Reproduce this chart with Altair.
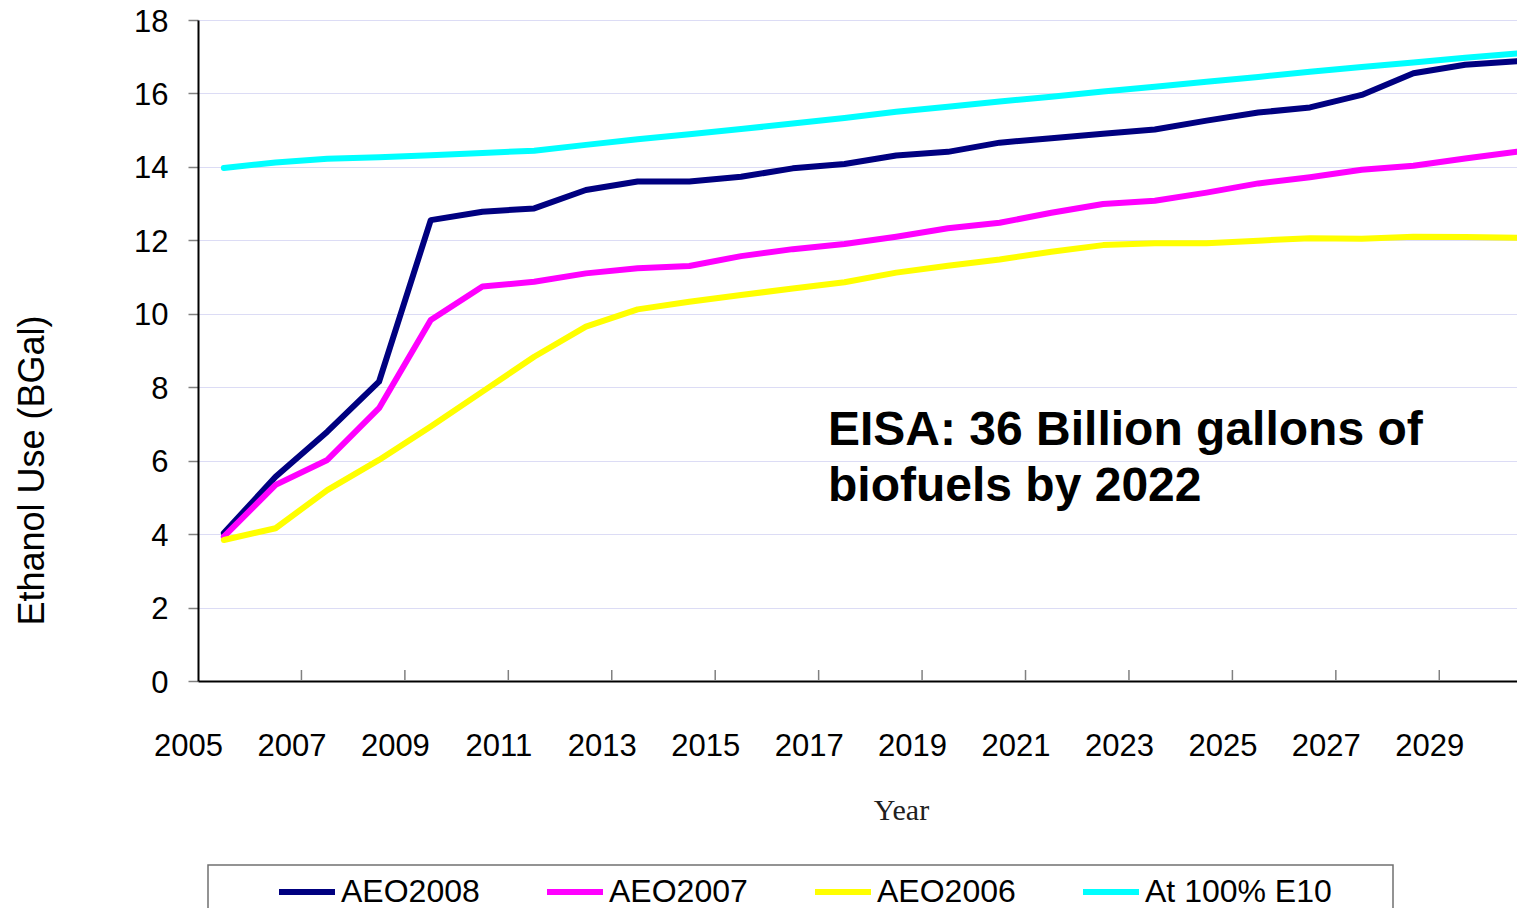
import altair as alt
import pandas as pd

# ---- data ----
years = list(range(2005, 2031))
aeo2008 = [4.03, 5.56, 6.79, 8.15, 12.55, 12.78, 12.87, 13.37, 13.60, 13.60, 13.73, 13.96, 14.08,
           14.31, 14.41, 14.66, 14.78, 14.90, 15.02, 15.26, 15.48, 15.62, 15.96, 16.55, 16.78, 16.88]
aeo2007 = [3.93, 5.34, 6.02, 7.43, 9.83, 10.74, 10.87, 11.10, 11.24, 11.30, 11.57, 11.76, 11.90,
           12.10, 12.33, 12.48, 12.75, 12.99, 13.08, 13.30, 13.55, 13.72, 13.92, 14.03, 14.23, 14.41]
aeo2006 = [3.84, 4.16, 5.20, 6.02, 6.93, 7.88, 8.83, 9.65, 10.12, 10.33, 10.51, 10.69, 10.86,
           11.12, 11.31, 11.48, 11.69, 11.87, 11.92, 11.92, 11.99, 12.06, 12.04, 12.10, 12.09, 12.07]
e10 = [13.97, 14.12, 14.22, 14.26, 14.32, 14.38, 14.44, 14.60, 14.75, 14.89, 15.03, 15.18, 15.33,
       15.50, 15.64, 15.78, 15.91, 16.05, 16.18, 16.32, 16.45, 16.59, 16.72, 16.84, 16.97, 17.09]

series_names = ["AEO2008", "AEO2007", "AEO2006", "At 100% E10"]
series_colors = ["#000080", "#FF00FF", "#FFFF00", "#00FFFF"]
y_ticks = [0, 2, 4, 6, 8, 10, 12, 14, 16, 18]
x_tick_positions = [2004.5 + 2 * i for i in range(13)]
annotation = "EISA: 36 Billion gallons of\nbiofuels by 2022"

rows = []
for name, vals in zip(series_names, [aeo2008, aeo2007, aeo2006, e10]):
    for yr, v in zip(years, vals):
        rows.append({"Year": yr, "Value": v, "Series": name})
df = pd.DataFrame(rows)

FONT = "Liberation Sans"
W, H = 1319, 661
xscale = alt.Scale(domain=[2004.5, 2004.5 + W / 51.72], nice=False, zero=False)
yscale = alt.Scale(domain=[0, 18], nice=False)

lines = alt.Chart(df).mark_line(strokeWidth=6, strokeCap="round", strokeJoin="round").encode(
    x=alt.X("Year:Q", scale=xscale,
            axis=alt.Axis(values=x_tick_positions, labelExpr="toString(datum.value + 0.5)",
                          ticks=False, grid=False, labelFlush=False, labelOverlap=False,
                          labelOffset=-10, labelPadding=50, labelFontSize=31, labelFont=FONT,
                          labelColor="black", domainColor="black", domainWidth=2,
                          title="Year", titleFont="Liberation Serif", titleFontSize=30,
                          titleFontWeight="normal", titleColor="#202020",
                          titleX=703, titleY=138, titleAlign="center",
                          titleBaseline="alphabetic")),
    y=alt.Y("Value:Q", scale=yscale,
            axis=alt.Axis(values=y_ticks, grid=True, gridColor="#DCDCF5", gridWidth=1,
                          tickColor="#808080", tickSize=10, tickWidth=1.5,
                          labelFontSize=31, labelFont=FONT, labelColor="black",
                          labelPadding=20, labelOffset=2, labelFlush=False,
                          domainColor="black", domainWidth=2,
                          title="Ethanol Use (BGal)", titleFont=FONT, titleFontSize=36,
                          titleFontWeight="normal", titleColor="black",
                          titleAngle=270, titleX=-155, titleY=450, titleAlign="center",
                          titleBaseline="alphabetic")),
    color=alt.Color("Series:N",
                    scale=alt.Scale(domain=series_names, range=series_colors),
                    sort=series_names,
                    legend=alt.Legend(title=None, orient="none", legendX=78, legendY=841,
                                      direction="horizontal", columns=4, gridAlign="all",
                                      columnPadding=7, symbolType="stroke",
                                      symbolSize=3136, symbolStrokeWidth=6,
                                      labelFontSize=32, labelFont=FONT, labelColor="black",
                                      labelOffset=3, labelLimit=400, padding=0)),
    order=alt.Order("Year:Q"),
)

ticks_df = pd.DataFrame({"pos": x_tick_positions[1:]})
xticks = alt.Chart(ticks_df).mark_rule(color="#808080", strokeWidth=1.5).encode(
    x=alt.X("pos:Q", scale=xscale),
    y=alt.value(H - 1),
    y2=alt.value(H - 11),
)

text = alt.Chart(pd.DataFrame({"t": [annotation]})).mark_text(
    align="left", baseline="alphabetic", fontSize=48, fontWeight="bold", font=FONT,
    color="black", lineBreak="\n", lineHeight=56,
).encode(x=alt.value(630), y=alt.value(425), text="t:N")

legend_box = alt.Chart(pd.DataFrame({"a": [0]})).mark_rect(
    fill="white", fillOpacity=0, stroke="#707070", strokeWidth=1.5,
).encode(x=alt.value(10), x2=alt.value(1195), y=alt.value(845), y2=alt.value(990))

chart = alt.layer(legend_box, xticks, lines, text).properties(
    width=W, height=H,
    autosize=alt.AutoSizeParams(type="none"),
    padding={"left": 190, "top": 12, "right": 0, "bottom": 227},
    background="white",
).configure_view(stroke=None)

chart.save("out.html", embed_options={"renderer": "svg", "actions": False})
